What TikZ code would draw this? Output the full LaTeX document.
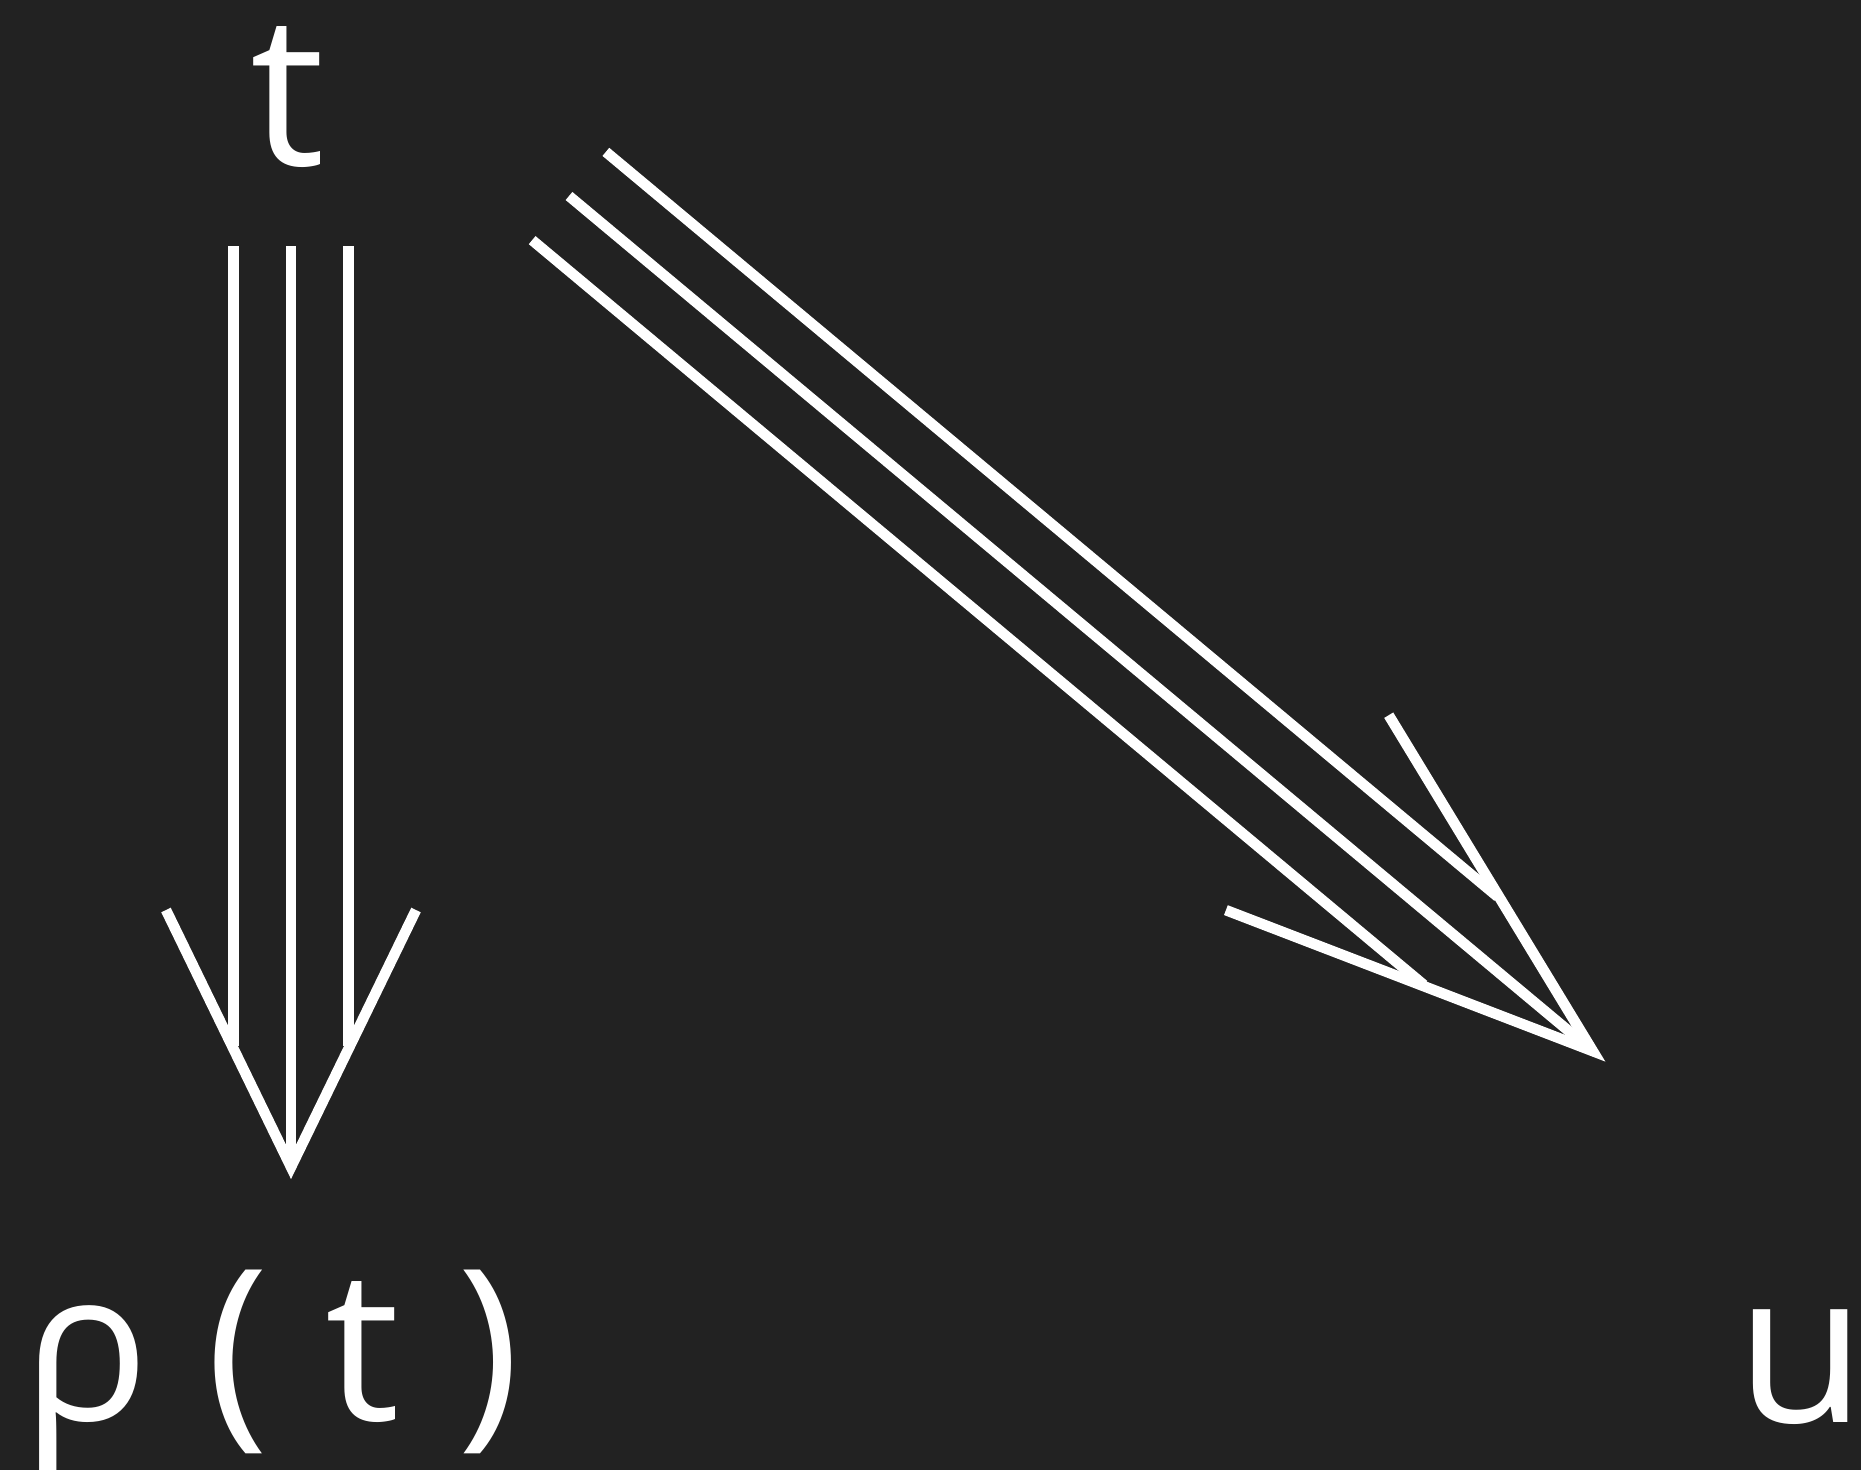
\documentclass[tikz,border=0pt]{standalone}
\usepackage{fontspec}
\newfontfamily\lblfont[LetterSpace=27]{Open Sans}
\usetikzlibrary{calc}
\definecolor{cBg}{HTML}{222222}

\begin{document}
\begin{tikzpicture}[
    x=0.02cm, y=-0.02cm,
    lbl/.style={text=white, inner sep=0pt,
                font=\lblfont\fontsize{120}{122}\selectfont},
    arr/.style={draw=white, line width=6pt, line cap=butt, line join=miter},
]

% ===================== Fondo =====================
\fill[cBg] (0,0) rectangle (1861,1470);
\useasboundingbox (0,0) rectangle (1861,1470);

% ===================== Objetos =====================
\node[lbl, anchor=base] (t) at (288,165) {t};
\node[lbl, anchor=base west] (p) at (22,1420) {ρ(t)};
\node[lbl, anchor=base east] (u) at (1866,1422) {u};

% ===================== Extremos de las flechas =====================
\coordinate (vs) at (291,246);
\coordinate (ds) at (569,196);

% ===================== t => p(t) (triple) =====================
\begin{scope}[shift={(vs)}, rotate=-90]
  \draw[arr] (0,0) -- (914,0);
  \foreach \k in {-1,1}
    \draw[arr] (0,\k*57.5) -- (800,\k*57.5);
  \draw[arr] (664,125) -- (921,0) -- (664,-125);
\end{scope}

% ===================== t => u (triple, diagonal) =====================
\begin{scope}[shift={(ds)}, rotate=-39.87]
  \draw[arr] (0,0) -- (1325,0);
  \foreach \k in {-1,1}
    \draw[arr] (0,\k*57.5) -- (1162,\k*57.5);
  \draw[arr] (962,127) -- (1334,0) -- (962,-127);
\end{scope}

\end{tikzpicture}
\end{document}
